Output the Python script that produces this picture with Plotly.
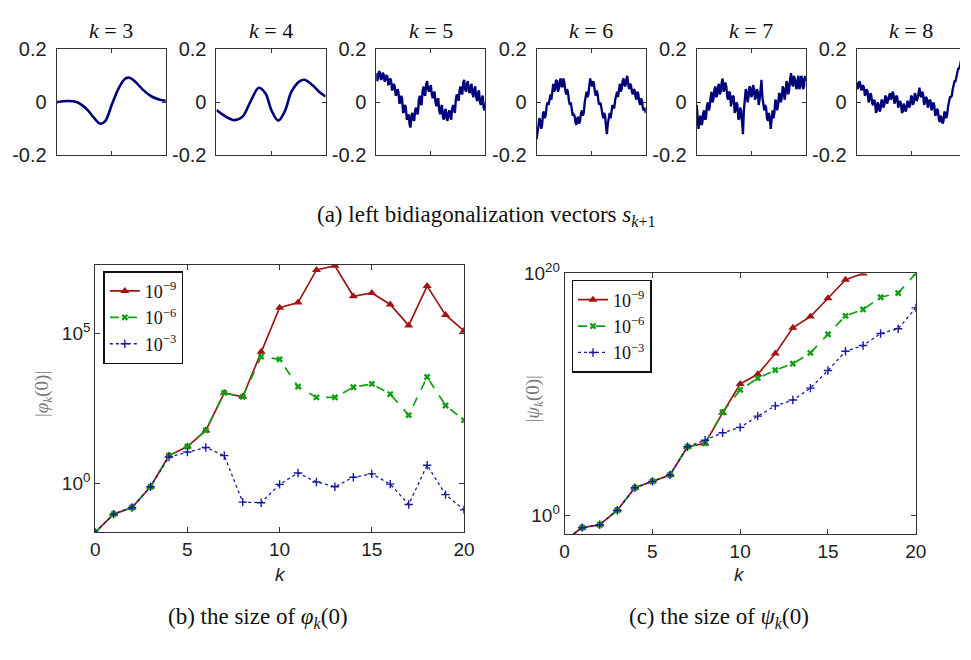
import plotly.graph_objects as go

W, H = 971, 660

# ---------------- data ----------------
panel_k = ["3", "4", "5", "6", "7", "8"]

k3_t = [0, 0.097, 0.188, 0.279, 0.339, 0.400, 0.445, 0.506, 0.567, 0.627, 0.667, 0.718, 0.794, 0.870, 0.945, 1.0]
k3_v = [0.0, 0.005, 0.0, -0.027, -0.057, -0.081, -0.071, -0.008, 0.052, 0.089, 0.093, 0.079, 0.046, 0.022, 0.010, 0.006]

k4_t = [0, 0.075, 0.164, 0.239, 0.313, 0.388, 0.448, 0.507, 0.567, 0.627, 0.687, 0.761, 0.806, 0.881, 0.940, 1.0]
k4_v = [-0.029, -0.051, -0.067, -0.054, 0.004, 0.055, 0.034, -0.033, -0.069, -0.033, 0.040, 0.079, 0.085, 0.064, 0.040, 0.022]

k5_v = [0.11, 0.08, 0.095, 0.118, 0.112, 0.085, 0.09, 0.112, 0.105, 0.078,
        0.085, 0.1, 0.098, 0.068, 0.07, 0.09, 0.082, 0.045, 0.05, 0.07,
        0.06, 0.025, 0.03, 0.05, 0.038, -0.005, 0.0, 0.025, 0.012, -0.04,
        -0.035, -0.01, -0.02, -0.065, -0.06, -0.045, -0.085, -0.095, -0.05, -0.04,
        -0.065, -0.07, -0.03, -0.02, -0.04, -0.045, 0.01, 0.025, -0.005, -0.01,
        0.04, 0.06, 0.03, 0.025, 0.07, 0.08, 0.05, 0.04, 0.055, 0.065,
        0.03, 0.015, 0.035, 0.04, 0.0, -0.015, 0.01, 0.015, -0.03, -0.045,
        -0.02, -0.01, -0.055, -0.065, -0.035, -0.025, -0.06, -0.07, -0.04, -0.03,
        -0.055, -0.065, -0.025, -0.01, -0.03, -0.04, 0.01, 0.03, 0.02, 0.005,
        0.045, 0.06, 0.035, 0.03, 0.075, 0.085, 0.05, 0.04, 0.07, 0.08,
        0.045, 0.035, 0.06, 0.07, 0.03, 0.02, 0.05, 0.06, 0.02, 0.005,
        0.035, 0.045, 0.0, -0.01, 0.015, 0.025, -0.02, -0.03, -0.005]

k6_v = [-0.14, -0.1, -0.09, -0.06, -0.07, -0.1, -0.085, -0.04, -0.035, -0.06,
        -0.045, -0.01, 0.0, -0.01, 0.02, 0.03, 0.01, 0.045, 0.07, 0.04,
        0.05, 0.085, 0.08, 0.04, 0.05, 0.08, 0.09, 0.06, 0.06, 0.09,
        0.075, 0.045, 0.03, 0.05, 0.035, 0.005, -0.01, 0.0, -0.03, -0.05,
        -0.045, -0.05, -0.075, -0.085, -0.06, -0.055, -0.08, -0.07, -0.04, -0.03,
        -0.05, -0.04, 0.0, 0.03, 0.04, 0.02, 0.03, 0.065, 0.09, 0.07,
        0.06, 0.08, 0.07, 0.04, 0.025, 0.045, 0.03, 0.0, -0.01, 0.0,
        -0.02, -0.045, -0.06, -0.04, -0.05, -0.09, -0.12, -0.08, -0.05, -0.04,
        -0.06, -0.03, -0.01, -0.02, -0.02, 0.01, 0.035, 0.04, 0.02, 0.05,
        0.07, 0.04, 0.05, 0.08, 0.09, 0.065, 0.06, 0.085, 0.1, 0.07,
        0.05, 0.07, 0.065, 0.04, 0.03, 0.05, 0.045, 0.02, 0.01, 0.04,
        0.03, 0.0, -0.01, 0.015, 0.005, -0.025, -0.03, -0.02, -0.04]

k7_v = [-0.01, -0.07, -0.1, -0.065, -0.05, -0.085, -0.08, -0.04, -0.03, -0.065,
        -0.06, -0.015, 0.0, -0.03, -0.02, 0.02, 0.04, 0.0, 0.01, 0.045,
        0.06, 0.02, 0.025, 0.06, 0.07, 0.03, 0.04, 0.075, 0.09, 0.04,
        0.05, 0.075, 0.06, 0.02, 0.01, 0.04, 0.035, -0.015, 0.0, 0.025,
        0.02, -0.04, -0.03, 0.0, -0.01, -0.065, -0.06, -0.02, -0.03, -0.07,
        -0.12, -0.03, 0.01, 0.05, 0.04, 0.0, 0.02, 0.06, 0.055, 0.02,
        0.03, 0.065, 0.05, 0.01, 0.02, 0.05, 0.04, -0.01, 0.01, 0.06,
        0.085, 0.02, 0.0, -0.03, -0.01, -0.02, -0.06, -0.07, -0.04, -0.06,
        -0.1, -0.05, -0.03, -0.06, -0.04, 0.01, 0.0, -0.03, -0.01, 0.035,
        0.03, 0.0, 0.02, 0.06, 0.05, 0.01, 0.03, 0.08, 0.07, 0.03,
        0.05, 0.09, 0.11, 0.07, 0.06, 0.1, 0.09, 0.06, 0.05, 0.085,
        0.1, 0.05, 0.06, 0.1, 0.09, 0.05, 0.06, 0.1, 0.08]

k8_v = [0.075, 0.05, 0.06, 0.08, 0.07, 0.045, 0.05, 0.065, 0.055, 0.025,
        0.03, 0.05, 0.04, 0.0, 0.01, 0.035, 0.025, -0.005, -0.01, 0.01,
        0.0, -0.04, -0.03, 0.0, -0.01, -0.035, -0.025, 0.01, 0.005, -0.02,
        -0.01, 0.025, 0.02, -0.005, 0.005, 0.03, 0.035, 0.01, 0.015, 0.04,
        0.03, -0.005, 0.005, 0.025, 0.02, -0.02, -0.01, 0.005, -0.005, -0.04,
        -0.035, -0.005, -0.015, -0.035, -0.025, 0.005, 0.0, -0.02, -0.01, 0.025,
        0.02, -0.01, 0.0, 0.035, 0.025, 0.005, 0.015, 0.04, 0.055, 0.025,
        0.02, 0.04, 0.03, -0.01, 0.0, 0.02, 0.015, -0.02, -0.01, 0.01,
        0.005, -0.03, -0.02, 0.0, -0.01, -0.05, -0.045, -0.025, -0.03, -0.065,
        -0.075, -0.05, -0.06, -0.08, -0.07, -0.035, -0.04, -0.06, -0.045, -0.015,
        0.0, 0.02, 0.02, 0.025, 0.05, 0.07, 0.08, 0.08, 0.1, 0.12,
        0.13, 0.125, 0.14, 0.16, 0.16, 0.145, 0.15, 0.17, 0.17]

k_axis = list(range(21))
series_names = ["10<sup>\u22129</sup>", "10<sup>\u22126</sup>", "10<sup>\u22123</sup>"]

# log10 |phi_k(0)|
phi_e9 = [-1.63, -1.02, -0.80, -0.11, 0.93, 1.23, 1.77, 3.02, 2.89, 4.39, 5.86,
          6.03, 7.12, 7.26, 6.24, 6.35, 5.97, 5.27, 6.58, 5.62, 5.09]
phi_e6 = [-1.63, -1.02, -0.80, -0.11, 0.93, 1.23, 1.77, 3.02, 2.89, 4.23, 4.14,
          3.23, 2.87, 2.87, 3.21, 3.32, 2.98, 2.28, 3.55, 2.60, 2.11]
phi_e3 = [-1.63, -1.02, -0.80, -0.11, 0.88, 1.05, 1.20, 0.93, -0.62, -0.64, -0.03,
          0.35, 0.05, -0.11, 0.21, 0.32, -0.02, -0.70, 0.61, -0.37, -0.88]

# log10 |psi_k(0)|
psi_e9 = [-2.1, -1.04, -0.80, 0.40, 2.26, 2.79, 3.32, 5.66, 5.93, 8.46, 10.85,
          11.65, 13.38, 15.5, 16.44, 17.95, 19.49, 20.0]
psi_e6 = [-2.1, -1.04, -0.80, 0.40, 2.26, 2.79, 3.32, 5.66, 5.93, 8.51, 10.37,
          11.33, 12.0, 12.53, 13.43, 14.97, 16.49, 17.02, 18.03, 18.38, 20.0]
psi_e3 = [-2.1, -1.04, -0.80, 0.40, 2.26, 2.79, 3.32, 5.66, 6.20, 6.81, 7.26,
          8.19, 9.04, 9.52, 10.51, 11.97, 13.56, 14.04, 15.03, 15.43, 17.15]

# ---------------- styling ----------------
SANS = "Liberation Sans, Arial, sans-serif"
SERIF = "Liberation Serif, Times New Roman, serif"
AXC = "#333333"
NAVY = "#00007a"
RED = "#a01414"
GREEN = "#10a010"
BLUE = "#1a1aa0"

def hx(px):
    return px / W

def vy(px):
    return 1 - px / H

fig = go.Figure()

# top panels
lefts = [52.5, 215.0, 377.5, 540.5, 703.3, 865.8]
pw = 111.0
top_curves = [
    (k3_t, k3_v),
    (k4_t, k4_v),
    ([i / (len(k5_v) - 1) for i in range(len(k5_v))], k5_v),
    ([i / (len(k6_v) - 1) for i in range(len(k6_v))], k6_v),
    ([i / (len(k7_v) - 1) for i in range(len(k7_v))], k7_v),
    ([i / (len(k8_v) - 1) for i in range(len(k8_v))], k8_v),
]

layout = dict(
    width=W, height=H, margin=dict(l=0, r=0, t=0, b=0),
    paper_bgcolor="white", plot_bgcolor="white", showlegend=True,
)
annotations = []

for i, (tt, vv) in enumerate(top_curves):
    n = i + 1
    smooth = i < 2
    fig.add_trace(go.Scatter(
        x=tt, y=vv, mode="lines",
        line=dict(color=NAVY, width=2.6 if smooth else 2.3,
                  shape="spline" if smooth else "linear"),
        xaxis="x%d" % n if n > 1 else "x", yaxis="y%d" % n if n > 1 else "y",
        showlegend=False, hoverinfo="skip",
    ))
    x0 = lefts[i]
    x1 = min(x0 + pw, W)
    last = (i == 5)
    xr = [0, (x1 - x0) / pw] if last else [0, 1]
    xa = dict(domain=[hx(x0), hx(x1)], range=xr, showline=True, linecolor=AXC,
              linewidth=1, mirror="ticks" if not last else True, ticks="inside",
              ticklen=4, tickcolor=AXC, tickvals=[0.5], showticklabels=False,
              showgrid=False, zeroline=False, anchor="y%d" % n if n > 1 else "y")
    ya = dict(domain=[vy(147.7), vy(37.7)], range=[-0.2, 0.2], showline=True,
              linecolor=AXC, linewidth=1, mirror="ticks" if not last else False,
              ticks="inside", ticklen=4, tickcolor=AXC,
              tickvals=[-0.2, 0, 0.2], ticktext=["-0.2", "0", "0.2"],
              tickfont=dict(family=SANS, size=20, color="#222"),
              ticklabelstandoff=5,
              showgrid=False, zeroline=False, anchor="x%d" % n if n > 1 else "x")
    layout["xaxis%s" % (n if n > 1 else "")] = xa
    layout["yaxis%s" % (n if n > 1 else "")] = ya
    annotations.append(dict(
        x=hx(x0 + pw / 2), y=vy(18), xref="paper", yref="paper",
        text="<i>k</i> = " + panel_k[i], showarrow=False,
        font=dict(family="Liberation Serif", size=22, color="#111"),
        xanchor="center", yanchor="middle"))

# bottom panels
styles = [
    dict(color=RED, dash="solid", width=1.7, symbol="triangle-up", msize=8),
    dict(color=GREEN, dash="dash", width=1.7, symbol="x", msize=6),
    dict(color=BLUE, dash="dot", width=1.3, symbol="cross-thin", msize=6),
]

def add_series(exps_list, xa, ya, legend):
    for s, exps, name in zip(styles, exps_list, series_names):
        xs = k_axis[:len(exps)]
        ys = [10 ** e for e in exps]
        mk = dict(symbol=s["symbol"], size=s["msize"], color=s["color"])
        if s["symbol"] == "cross-thin":
            mk["line"] = dict(color=s["color"], width=1.4)
        else:
            mk["line"] = dict(width=0)
        fig.add_trace(go.Scatter(
            x=xs, y=ys, mode="lines+markers", name=name,
            line=dict(color=s["color"], dash=s["dash"], width=s["width"]),
            marker=mk, xaxis=xa, yaxis=ya, legend=legend, hoverinfo="skip",
        ))

add_series([phi_e9, phi_e6, phi_e3], "x7", "y7", "legend")
add_series([psi_e9, psi_e6, psi_e3], "x8", "y8", "legend2")

common_x = dict(range=[0, 20], tickvals=[0, 5, 10, 15, 20], ticks="inside", ticklen=5,
                tickcolor=AXC, showline=True, linecolor=AXC, linewidth=1, mirror="ticks",
                showgrid=False, zeroline=False,
                tickfont=dict(family=SANS, size=19, color="#222"))
common_y = dict(type="log", ticks="inside", ticklen=5, tickcolor=AXC, showline=True,
                linecolor=AXC, linewidth=1, mirror="ticks", showgrid=False, zeroline=False,
                tickfont=dict(family=SANS, size=19, color="#222"))

layout["xaxis7"] = dict(common_x, domain=[hx(91.7), hx(466.7)], anchor="y7")
layout["yaxis7"] = dict(common_y, domain=[vy(539), vy(261)], anchor="x7",
                        range=[-1.63, 7.3], tickvals=[1, 1e5],
                        ticktext=["10<sup>0</sup>", "10<sup>5</sup>"])
layout["xaxis8"] = dict(common_x, domain=[hx(569), hx(926)], anchor="y8")
layout["yaxis8"] = dict(common_y, domain=[vy(540.7), vy(270.3)], anchor="x8",
                        range=[-1.57, 20], tickvals=[1, 1e20],
                        ticktext=["10<sup>0</sup>", "10<sup>20</sup>"])

leg_common = dict(bgcolor="white", bordercolor="#111", borderwidth=1.5,
                  font=dict(family=SERIF, size=18, color="#111"),
                  xanchor="left", yanchor="top", tracegroupgap=0, itemwidth=30)
layout["legend"] = dict(leg_common, x=hx(100), y=vy(268))
layout["legend2"] = dict(leg_common, x=hx(576), y=vy(277))

# axis titles and captions
annotations += [
    dict(x=hx(38), y=vy(395), text="|<i>\u03c6</i><sub><i>k</i></sub>(0)|", textangle=-90,
         font=dict(family=SERIF, size=19, color="#777")),
    dict(x=hx(538), y=vy(400), text="|<i>\u03c8</i><sub><i>k</i></sub>(0)|", textangle=-90,
         font=dict(family=SERIF, size=19, color="#777")),
    dict(x=hx(280), y=vy(583), text="<i>k</i>", font=dict(family=SANS, size=19, color="#222")),
    dict(x=hx(747), y=vy(583), text="<i>k</i>", font=dict(family=SANS, size=19, color="#222")),
    dict(x=hx(490), y=vy(211),
         text="(a) left bidiagonalization vectors <i>s</i><sub><i>k</i>+1</sub>",
         font=dict(family=SERIF, size=23, color="#111")),
    dict(x=hx(257), y=vy(628), text="(b) the size of <i>\u03c6</i><sub><i>k</i></sub>(0)",
         font=dict(family=SERIF, size=23, color="#111")),
    dict(x=hx(726), y=vy(628), text="(c) the size of <i>\u03c8</i><sub><i>k</i></sub>(0)",
         font=dict(family=SERIF, size=23, color="#111")),
]
for a in annotations:
    a.setdefault("xref", "paper")
    a.setdefault("yref", "paper")
    a.setdefault("showarrow", False)
    a.setdefault("xanchor", "center")
    a.setdefault("yanchor", "middle")
layout["annotations"] = annotations

fig.update_layout(**layout)
fig.write_html("out.html", config={"displayModeBar": False})
